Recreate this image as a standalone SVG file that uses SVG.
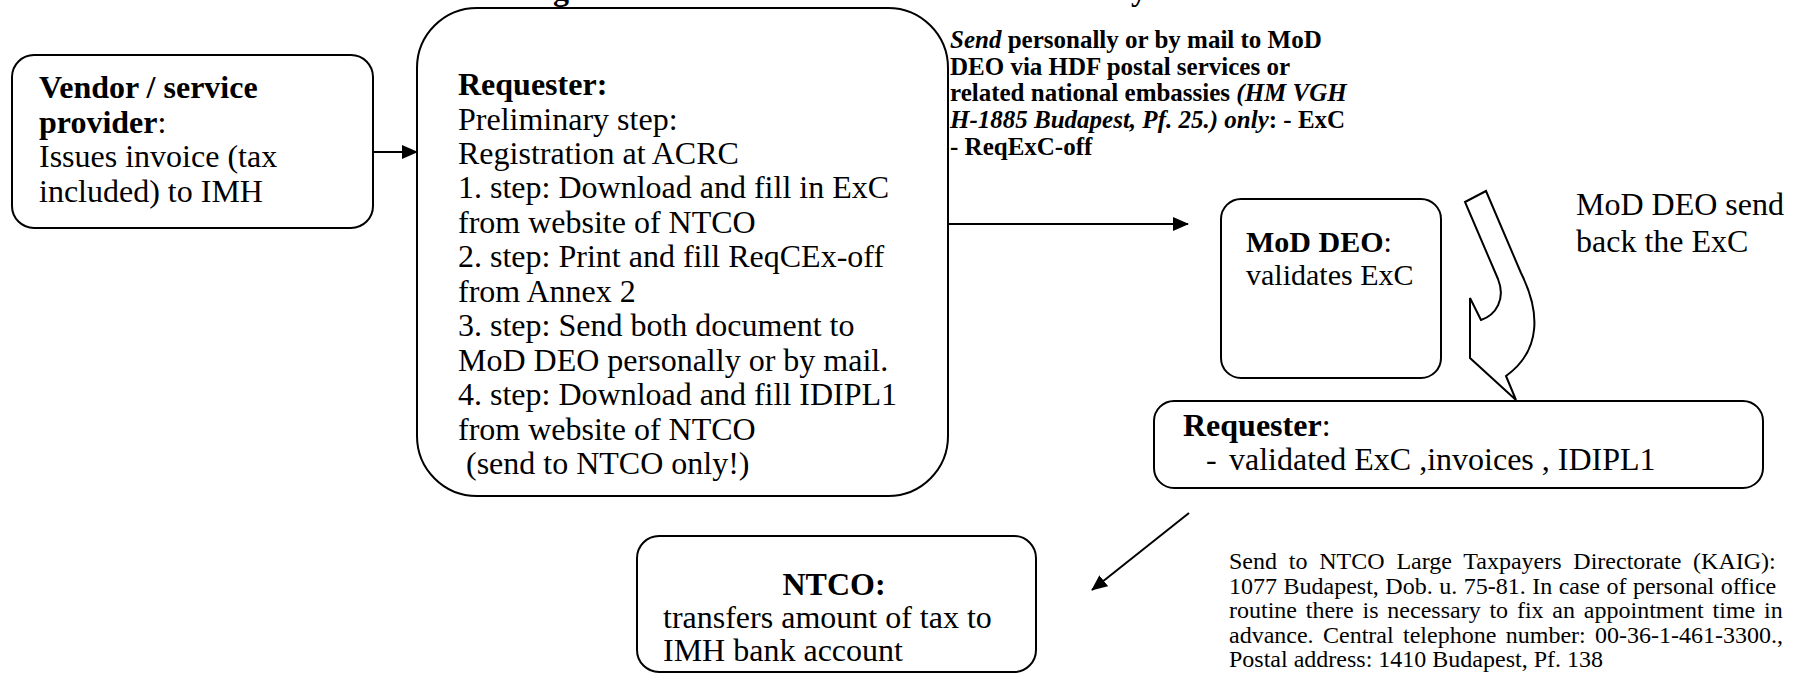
<svg xmlns="http://www.w3.org/2000/svg" width="1801" height="674" viewBox="0 0 1801 674">
<style>
.box{fill:#fff;stroke:#000;stroke-width:2}
.t{font-family:"Liberation Serif","Times New Roman",serif;font-size:32px;fill:#000}
.b{font-weight:bold}
.i{font-style:italic}
.s{font-size:25px;font-weight:bold}
.m{font-size:30px}
.n{font-size:24px}
.conn{stroke:#000;stroke-width:2;fill:none}
</style>
<defs>
<marker id="ah" markerUnits="userSpaceOnUse" markerWidth="16" markerHeight="14" refX="15" refY="7" orient="auto">
<path d="M0,0 L16,7 L0,14 Z" fill="#000"/>
</marker>
</defs>
<rect width="1801" height="674" fill="#fff"/>

<g id="title-fragments" class="t b" font-size="27">
<text x="553" y="0">g</text>
<text x="1131" y="0">y</text>
</g>

<g id="connectors">
<line class="conn" x1="373" y1="152" x2="417" y2="152" marker-end="url(#ah)"/>
<line class="conn" x1="948" y1="224" x2="1188" y2="224" marker-end="url(#ah)"/>
<line class="conn" x1="1189" y1="513" x2="1092" y2="590" marker-end="url(#ah)"/>
<path id="return-arrow" d="M1465,202 L1486,191 L1521,273 C1540,311 1542,350 1506,376 L1516,400 L1470,358 L1470,298 L1481,320 C1496,315 1506,299 1498,279 Z" fill="#fff" stroke="#000" stroke-width="2"/>
</g>

<g id="vendor">
<rect class="box" x="12" y="55" width="361" height="173" rx="22"/>
<text class="t" x="39" y="98"><tspan class="b">Vendor / service</tspan></text>
<text class="t" x="39" y="132.5"><tspan class="b">provider</tspan>:</text>
<text class="t" x="39" y="167">Issues invoice (tax</text>
<text class="t" x="39" y="201.5">included) to IMH</text>
</g>

<g id="requester">
<rect class="box" x="417" y="8" width="531" height="488" rx="60"/>
<text class="t b" x="458" y="95">Requester:</text>
<text class="t" x="458" y="129.5">Preliminary step:</text>
<text class="t" x="458" y="164">Registration at ACRC</text>
<text class="t" x="458" y="198.4">1. step: Download and fill in ExC</text>
<text class="t" x="458" y="232.8">from website of NTCO</text>
<text class="t" x="458" y="267.3">2. step: Print and fill ReqCEx-off</text>
<text class="t" x="458" y="301.7">from Annex 2</text>
<text class="t" x="458" y="336.2">3. step: Send both document to</text>
<text class="t" x="458" y="370.6">MoD DEO personally or by mail.</text>
<text class="t" x="458" y="405">4. step: Download and fill IDIPL1</text>
<text class="t" x="458" y="439.5">from website of NTCO</text>
<text class="t" x="466" y="474">(send to NTCO only!)</text>
</g>

<g id="send-label">
<text class="t s" x="950" y="48"><tspan class="i">Send</tspan> personally or by mail to MoD</text>
<text class="t s" x="950" y="74.7">DEO via HDF postal services or</text>
<text class="t s" x="950" y="101.4">related national embassies <tspan class="i">(HM VGH</tspan></text>
<text class="t s" x="950" y="128.1"><tspan class="i">H-1885 Budapest, Pf. 25.) only</tspan>: - ExC</text>
<text class="t s" x="950" y="154.8">- ReqExC-off</text>
</g>

<g id="mod-deo">
<rect class="box" x="1221" y="199" width="220" height="179" rx="20"/>
<text class="t m" x="1246" y="252"><tspan class="b">MoD DEO</tspan>:</text>
<text class="t m" x="1246" y="285">validates ExC</text>
</g>

<g id="return-label">
<text class="t" x="1576" y="215">MoD DEO send</text>
<text class="t" x="1576" y="252">back the ExC</text>
</g>

<g id="requester-2">
<rect class="box" x="1154" y="401" width="609" height="87" rx="20"/>
<text class="t" x="1183" y="436"><tspan class="b">Requester</tspan>:</text>
<text class="t" x="1206" y="470">-</text>
<text class="t" x="1229" y="470">validated ExC ,invoices , IDIPL1</text>
</g>

<g id="ntco">
<rect class="box" x="637" y="536" width="399" height="136" rx="22"/>
<text class="t b" x="834" y="595" text-anchor="middle">NTCO:</text>
<text class="t" x="663" y="628">transfers amount of tax to</text>
<text class="t" x="663" y="661">IMH bank account</text>
</g>

<g id="ntco-address" class="t n">
<text x="1229" y="569" word-spacing="5.8">Send to NTCO Large Taxpayers Directorate (KAIG):</text>
<text x="1229" y="593.5" word-spacing="0.5">1077 Budapest, Dob. u. 75-81. In case of personal office</text>
<text x="1229" y="618" word-spacing="2.8">routine there is necessary to fix an appointment time in</text>
<text x="1229" y="642.5" word-spacing="3.4">advance. Central telephone number: 00-36-1-461-3300.,</text>
<text x="1229" y="667">Postal address: 1410 Budapest, Pf. 138</text>
</g>
</svg>
